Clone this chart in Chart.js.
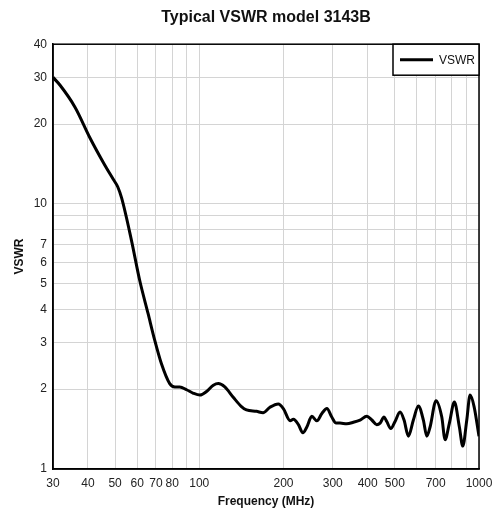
<!DOCTYPE html>
<html lang="en">
<head>
    <meta charset="UTF-8" />
    <title>Typical VSWR model 3143B</title>
    <script src="https://cdn.jsdelivr.net/npm/chart.js"></script>
    <style>
        html, body { margin: 0; padding: 0; background: #fff; }
        .grafico-box { width: 494px; height: 510px; }
    </style>
</head>
<body>
    <div class="grafico-box">
        <canvas id="graficoVswr"></canvas>
    </div>
<script>
    // frequency in MHz
    const frequencias = [30, 31.8, 36.0, 40.6, 45.6, 49.2, 51.1, 52.8, 57.2, 61.2, 65.6, 69.3, 73.2, 78.4, 81.8,
        85.2, 90.1, 95.3, 100.6, 106.2, 112.3, 117.0, 123.4, 132.0, 141.5, 147.5, 160.2, 169.0, 179.0, 191.7,
        199.8, 211.3, 217.1, 226.2, 234.6, 242.4, 252.6, 263.3, 274.4, 286.0, 297.6, 308.4, 318.4, 336.6, 355.5,
        375.7, 397.1, 413.8, 431.1, 443.0, 457.8, 468.1, 483.7, 501.1, 522.1, 539.6, 559.1, 582.6, 607.1, 632.6,
        650.6, 668.5, 702.3, 736.1, 756.4, 783.7, 816.5, 850.8, 875.0, 904.3, 929.2, 960.3, 1000];
    const vswr = [30, 28.0, 23.1, 17.8, 14.2, 12.4, 11.6, 10.5, 7.3, 5.16, 3.86, 3.06, 2.5, 2.10, 2.04,
        2.04, 1.99, 1.93, 1.90, 1.96, 2.07, 2.10, 2.04, 1.87, 1.72, 1.67, 1.65, 1.63, 1.71, 1.76,
        1.69, 1.52, 1.54, 1.47, 1.37, 1.44, 1.58, 1.52, 1.62, 1.69, 1.57, 1.49, 1.49, 1.48, 1.50,
        1.53, 1.58, 1.53, 1.47, 1.49, 1.57, 1.51, 1.42, 1.51, 1.64, 1.53, 1.33, 1.53, 1.73, 1.53,
        1.33, 1.44, 1.81, 1.57, 1.29, 1.49, 1.79, 1.44, 1.22, 1.53, 1.90, 1.72, 1.33];

    // grid lines and which of them get a label
    const xGrade = [30, 40, 50, 60, 70, 80, 90, 100, 200, 300, 400, 500, 600, 700, 800, 900, 1000];
    const xRotulos = [30, 40, 50, 60, 70, 80, 100, 200, 300, 400, 500, 700, 1000];
    const yGrade = [1, 2, 3, 4, 5, 6, 7, 8, 9, 10, 20, 30, 40];
    const yRotulos = [1, 2, 3, 4, 5, 6, 7, 10, 20, 30, 40];

    const pontos = frequencias.map((f, i) => ({ x: f, y: vswr[i] }));

    // frame round the plot + legend box inside top right
    const moldura = {
        id: "moldura",
        afterDraw(chart) {
            const { ctx, chartArea: a } = chart;
            ctx.save();
            ctx.strokeStyle = "#000";
            ctx.lineWidth = 1.5;
            ctx.strokeRect(a.left, a.top, a.right - a.left, a.bottom - a.top);

            const ds = chart.data.datasets[0];
            const w = 86, h = 31;
            const x0 = a.right - w, y0 = a.top;
            ctx.fillStyle = "#fff";
            ctx.fillRect(x0, y0, w, h);
            ctx.strokeRect(x0, y0, w, h);
            ctx.beginPath();
            ctx.moveTo(x0 + 7, y0 + h / 2);
            ctx.lineTo(x0 + 40, y0 + h / 2);
            ctx.lineWidth = ds.borderWidth;
            ctx.strokeStyle = ds.borderColor;
            ctx.stroke();
            ctx.fillStyle = "#111";
            ctx.font = "12px 'Liberation Sans', Arial, sans-serif";
            ctx.textBaseline = "middle";
            ctx.fillText(ds.label, x0 + 46, y0 + h / 2 + 1);
            ctx.restore();
        }
    };

    Chart.defaults.font.family = "'Liberation Sans', Arial, sans-serif";
    Chart.defaults.color = "#222";

    new Chart(document.getElementById("graficoVswr"), {
        type: "line",
        data: {
            datasets: [{
                label: "VSWR",
                data: pontos,
                borderColor: "#000",
                borderWidth: 3,
                pointRadius: 0,
                fill: false,
                cubicInterpolationMode: "monotone"
            }]
        },
        options: {
            responsive: true,
            maintainAspectRatio: false,
            animation: false,
            layout: { padding: { left: 0, right: 0, top: 0, bottom: 0 } },
            plugins: {
                legend: { display: false },
                tooltip: { enabled: false },
                title: {
                    display: true,
                    text: "Typical VSWR model 3143B",
                    fullSize: false,
                    color: "#111",
                    font: { size: 16, weight: "bold" },
                    padding: { top: 8, bottom: 17 }
                }
            },
            scales: {
                x: {
                    type: "logarithmic",
                    min: 30,
                    max: 1000,
                    afterBuildTicks: (s) => { s.ticks = xGrade.map(v => ({ value: v })); },
                    afterFit: (s) => { s.height = 41; s.paddingRight = 15; s.paddingLeft = 0; },
                    ticks: {
                        autoSkip: false,
                        maxRotation: 0,
                        padding: 7,
                        font: { size: 12 },
                        callback: (v) => xRotulos.includes(v) ? String(v) : ""
                    },
                    grid: { color: "#d4d4d4", lineWidth: 1, drawTicks: false },
                    border: { color: "#000", width: 1.5 },
                    title: {
                        display: true,
                        text: "Frequency (MHz)",
                        color: "#111",
                        font: { size: 12, weight: "bold" },
                        padding: { top: 0, bottom: 1 }
                    }
                },
                y: {
                    type: "logarithmic",
                    min: 1,
                    max: 40,
                    afterBuildTicks: (s) => { s.ticks = yGrade.map(v => ({ value: v })); },
                    afterFit: (s) => { s.width = 53; },
                    ticks: {
                        autoSkip: false,
                        padding: 6,
                        font: { size: 12 },
                        callback: (v) => yRotulos.includes(v) ? String(v) : ""
                    },
                    grid: { color: "#d4d4d4", lineWidth: 1, drawTicks: false },
                    border: { color: "#000", width: 1.5 },
                    title: {
                        display: true,
                        text: "VSWR",
                        color: "#111",
                        font: { size: 12, weight: "bold" },
                        padding: { top: 12, bottom: 0 }
                    }
                }
            }
        },
        plugins: [moldura]
    });
</script>
</body>
</html>
